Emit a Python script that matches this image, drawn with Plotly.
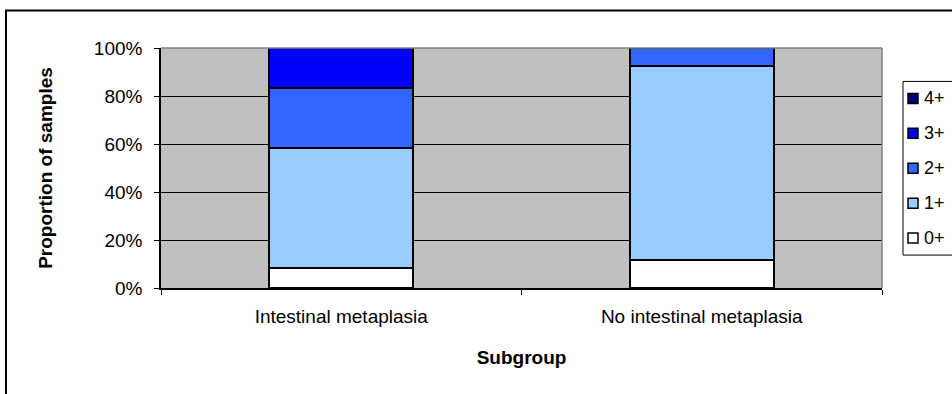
import plotly.graph_objects as go

# ---- data ----
categories = ["Intestinal metaplasia", "No intestinal metaplasia"]
series_names = ["0+", "1+", "2+", "3+", "4+"]
series_colors = ["#FFFFFF", "#99CCFF", "#3366FF", "#0000FF", "#000080"]
values_0 = [8.33, 11.54]
values_1 = [50.0, 80.77]
values_2 = [25.0, 7.69]
values_3 = [16.67, 0.0]
values_4 = [0.0, 0.0]
series_values = [values_0, values_1, values_2, values_3, values_4]
y_tick_values = [0, 20, 40, 60, 80, 100]
y_tick_labels = ["0%", "20%", "40%", "60%", "80%", "100%"]

FONT = "Liberation Sans, Arial, sans-serif"
W, H = 952, 394
L, R, T, B = 161, 882, 47.5, 288

def px2paper_x(px):
    return (px - L) / (R - L)

def px2paper_y(py):
    return (B - py) / (B - T)

fig = go.Figure()
for name, color, vals in zip(series_names, series_colors, series_values):
    fig.add_trace(go.Bar(
        x=categories, y=vals, name=name,
        marker=dict(color=color, line=dict(color="black", width=2)),
        showlegend=False, hoverinfo="skip",
    ))

shapes = []
annotations = []
# outer chart border
shapes.append(dict(type="rect", xref="paper", yref="paper",
                   x0=px2paper_x(6), x1=px2paper_x(1000),
                   y0=px2paper_y(500), y1=px2paper_y(10),
                   line=dict(color="black", width=2), layer="below"))
# plot area top/right gray border
shapes.append(dict(type="line", xref="paper", yref="paper", x0=0, x1=1, y0=1, y1=1,
                   line=dict(color="#808080", width=1.5)))
shapes.append(dict(type="line", xref="paper", yref="paper", x0=1, x1=1, y0=0, y1=1,
                   line=dict(color="#808080", width=1.5)))
# legend box
shapes.append(dict(type="rect", xref="paper", yref="paper",
                   x0=px2paper_x(903), x1=px2paper_x(1000),
                   y0=px2paper_y(255), y1=px2paper_y(81),
                   line=dict(color="black", width=1), fillcolor="white"))
# legend items (top: 4+)
for i, (name, color) in enumerate(zip(series_names[::-1], series_colors[::-1])):
    cy = 98 + 35 * i
    shapes.append(dict(type="rect", xref="paper", yref="paper",
                       x0=px2paper_x(908), x1=px2paper_x(918),
                       y0=px2paper_y(cy + 5), y1=px2paper_y(cy - 5),
                       line=dict(color="black", width=1.5), fillcolor=color))
    annotations.append(dict(xref="paper", yref="paper", x=px2paper_x(922), y=px2paper_y(cy),
                            text=name, showarrow=False, xanchor="left", yanchor="middle",
                            font=dict(family=FONT, size=18, color="black")))

fig.update_layout(
    width=W, height=H,
    barmode="stack", bargap=0.6,
    margin=dict(l=L, r=W - R, t=T, b=H - B, pad=0),
    paper_bgcolor="white", plot_bgcolor="#C0C0C0",
    font=dict(family=FONT, size=18, color="black"),
    shapes=shapes, annotations=annotations,
    hovermode=False,
    xaxis=dict(
        type="category", range=[-0.5, 1.5],
        showline=True, linecolor="black", linewidth=1.5,
        ticks="outside", tickson="boundaries", ticklen=5, tickcolor="black",
        showgrid=False, ticklabelstandoff=10,
        tickfont=dict(family=FONT, size=19),
        title=dict(text="<b>Subgroup</b>", font=dict(family=FONT, size=19), standoff=25),
    ),
    yaxis=dict(
        range=[0, 100], tickmode="array", tickvals=y_tick_values, ticktext=y_tick_labels,
        showline=True, linecolor="black", linewidth=1.5,
        ticks="outside", ticklen=5, tickcolor="black",
        showgrid=True, gridcolor="black", gridwidth=1,
        zeroline=False, ticklabelstandoff=8,
        tickfont=dict(family=FONT, size=19),
        title=dict(text="<b>Proportion of samples</b>", font=dict(family=FONT, size=19), standoff=36),
    ),
)

fig.write_html("out.html", config={"displayModeBar": False},
               post_script="document.body.style.margin='0';document.body.style.overflow='hidden';")
